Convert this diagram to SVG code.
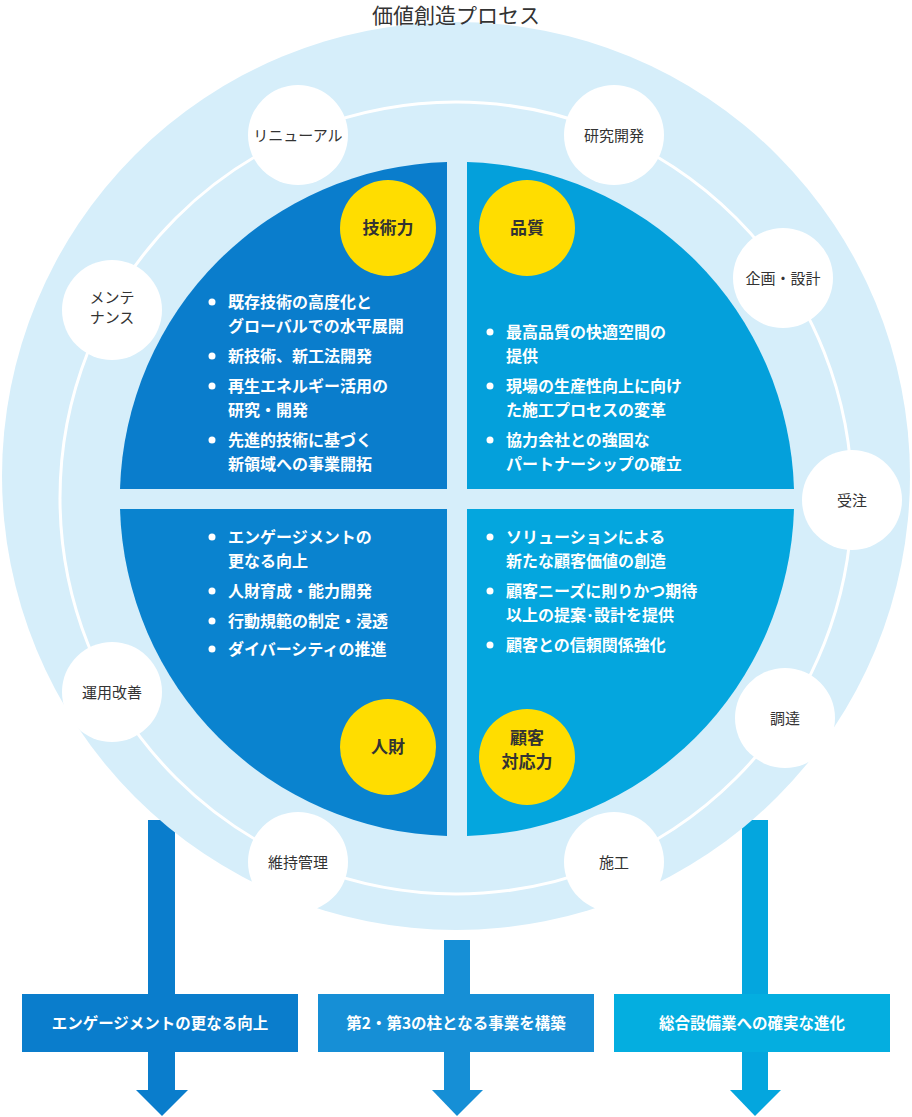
<svg xmlns="http://www.w3.org/2000/svg" width="912" height="1117" viewBox="0 0 912 1117">
<style>
text{font-family:"Noto Sans CJK JP","Noto Sans",sans-serif}
.t{font-size:21px;fill:#333;text-anchor:middle}
.n{font-size:15px;fill:#333;text-anchor:middle}
.y{font-size:17px;fill:#333;text-anchor:middle;font-weight:bold}
.b{font-size:16px;fill:#fff;font-weight:bold}
.bx{font-size:15.5px;fill:#fff;text-anchor:middle;font-weight:bold}
.node{fill:#fff}
</style>
<g id="bars">
<rect x="148" y="820" width="27" height="275" fill="#0a7dcc"/>
<polygon points="136,1090 188,1090 162,1116" fill="#0a7dcc"/>
<rect x="444" y="940" width="26" height="155" fill="#168fd6"/>
<polygon points="432,1090 483,1090 457,1116" fill="#168fd6"/>
<rect x="742" y="820" width="26" height="275" fill="#04a6de"/>
<polygon points="730,1090 781,1090 755,1116" fill="#04a6de"/>
</g>
<circle cx="456" cy="476" r="454" fill="#d6eefa"/>
<text class="t" x="456" y="23">価値創造プロセス</text>
<circle cx="456" cy="498" r="396" fill="none" stroke="#fff" stroke-width="3"/>
<g id="quadrants">
<path d="M447,489 L120,489 A337,337 0 0 1 447,162 Z" fill="#0a7dcc"/>
<path d="M467,489 L467,162 A337,337 0 0 1 794,489 Z" fill="#04a0db"/>
<path d="M447,509 L447,836 A337,337 0 0 1 120,509 Z" fill="#0a83cf"/>
<path d="M467,509 L794,509 A337,337 0 0 1 467,836 Z" fill="#04a6de"/>
</g>
<g id="yellow">
<circle cx="388" cy="228" r="48" fill="#ffdd00"/><text class="y" x="388" y="234">技術力</text>
<circle cx="527" cy="228" r="48" fill="#ffdd00"/><text class="y" x="527" y="234">品質</text>
<circle cx="388" cy="747" r="48" fill="#ffdd00"/><text class="y" x="388" y="753">人財</text>
<circle cx="527" cy="757" r="48" fill="#ffdd00"/><text class="y" x="527" y="744">顧客</text><text class="y" x="527" y="768">対応力</text>
</g>
<g id="texts" fill="#fff">
<circle cx="212" cy="302" r="3.5"/><circle cx="212" cy="356" r="3.5"/><circle cx="212" cy="386" r="3.5"/><circle cx="212" cy="440" r="3.5"/>
<text class="b" x="228" y="308">既存技術の高度化と</text><text class="b" x="228" y="332">グローバルでの水平展開</text>
<text class="b" x="228" y="362">新技術、新工法開発</text>
<text class="b" x="228" y="392">再生エネルギー活用の</text><text class="b" x="228" y="416">研究・開発</text>
<text class="b" x="228" y="446">先進的技術に基づく</text><text class="b" x="228" y="470">新領域への事業開拓</text>
<circle cx="490" cy="332" r="3.5"/><circle cx="490" cy="386" r="3.5"/><circle cx="490" cy="440" r="3.5"/>
<text class="b" x="506" y="338">最高品質の快適空間の</text><text class="b" x="506" y="362">提供</text>
<text class="b" x="506" y="392">現場の生産性向上に向け</text><text class="b" x="506" y="416">た施工プロセスの変革</text>
<text class="b" x="506" y="446">協力会社との強固な</text><text class="b" x="506" y="470">パートナーシップの確立</text>
<circle cx="212" cy="537" r="3.5"/><circle cx="212" cy="591" r="3.5"/><circle cx="212" cy="621" r="3.5"/><circle cx="212" cy="649" r="3.5"/>
<text class="b" x="228" y="543">エンゲージメントの</text><text class="b" x="228" y="567">更なる向上</text>
<text class="b" x="228" y="597">人財育成・能力開発</text>
<text class="b" x="228" y="627">行動規範の制定・浸透</text>
<text class="b" x="228" y="655">ダイバーシティの推進</text>
<circle cx="490" cy="537" r="3.5"/><circle cx="490" cy="591" r="3.5"/><circle cx="490" cy="645" r="3.5"/>
<text class="b" x="506" y="543">ソリューションによる</text><text class="b" x="506" y="567">新たな顧客価値の創造</text>
<text class="b" x="506" y="597">顧客ニーズに則りかつ期待</text><text class="b" x="506" y="621">以上の提案･設計を提供</text>
<text class="b" x="506" y="651">顧客との信頼関係強化</text>
</g>
<g id="nodes">
<circle class="node" cx="298" cy="135" r="50"/><text class="n" x="298" y="141">リニューアル</text>
<circle class="node" cx="614" cy="135" r="50"/><text class="n" x="614" y="141">研究開発</text>
<circle class="node" cx="783" cy="278" r="50"/><text class="n" x="783" y="284">企画・設計</text>
<circle class="node" cx="852" cy="500" r="50"/><text class="n" x="852" y="506">受注</text>
<circle class="node" cx="785" cy="718" r="50"/><text class="n" x="785" y="724">調達</text>
<circle class="node" cx="614" cy="862" r="50"/><text class="n" x="614" y="868">施工</text>
<circle class="node" cx="298" cy="862" r="50"/><text class="n" x="298" y="868">維持管理</text>
<circle class="node" cx="112" cy="692" r="50"/><text class="n" x="112" y="698">運用改善</text>
<circle class="node" cx="112" cy="310" r="50"/><text class="n" x="112" y="303">メンテ</text><text class="n" x="112" y="323">ナンス</text>
</g>
<g id="boxes">
<rect x="22" y="994" width="276" height="58" fill="#0a7dcc"/><text class="bx" x="160" y="1029">エンゲージメントの更なる向上</text>
<rect x="318" y="994" width="276" height="58" fill="#168fd6"/><text class="bx" x="456" y="1029">第2・第3の柱となる事業を構築</text>
<rect x="614" y="994" width="276" height="58" fill="#04aee0"/><text class="bx" x="752" y="1029">総合設備業への確実な進化</text>
</g>
</svg>
